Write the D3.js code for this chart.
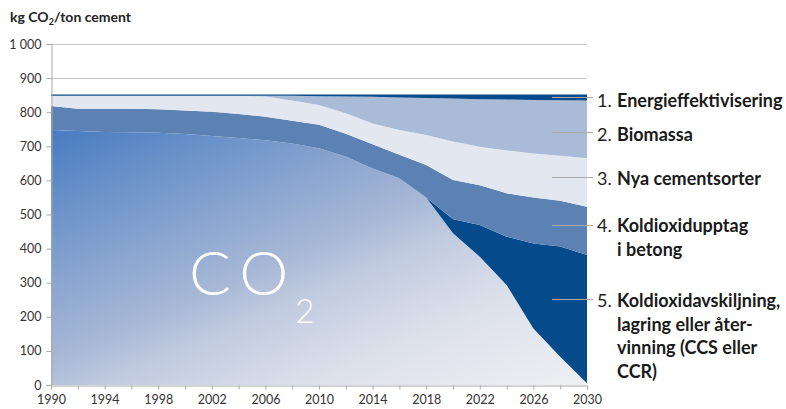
<!DOCTYPE html>
<html><head><meta charset="utf-8">
<script src="https://cdn.jsdelivr.net/npm/d3@7"></script>
<style>
body{margin:0;background:#fff;}
svg{display:block;font-family:Lato,"Open Sans",sans-serif;}
</style>
</head><body>
<svg id="chart" width="786" height="409"></svg>
<script>
// ---- data (kg CO2 / ton cement) ----
const years        = [1990,1992,1994,1996,1998,2000,2002,2004,2006,2008,2010,2012,2014,2016,2018,2020,2022,2024,2026,2028,2030];
const co2          = [748,745,742,741,740,736,730,724,718,708,694,670,635,606,550,445,376,293,166,83,5];
const ccs          = [0,0,0,0,0,0,0,0,0,0,0,0,0,0,0,41,93,142,249,323,376];
const upptag       = [70,65,68,69,69,69,71,71,69,67,69,67,71,69,95,115,117,127,135,134,142];
const cementsorter = [30,38,38,38,39,43,47,53,59,59,58,60,61,73,88,113,113,126,129,132,142];
const biomassa     = [0,0,0,0,0,0,0,0,2,14,26,49,78,95,109,126,139,149,157,163,169];
const energi       = [4,4,4,4,4,4,4,4,4,4,5,6,7,9,10,12,14,15,16,17,18];

const yTicks = [0,100,200,300,400,500,600,700,800,900,1000];
const yTickLabels = ["0","100","200","300","400","500","600","700","800","900","1 000"];
const xMinorTicks = [1990,1992,1994,1996,1998,2000,2002,2004,2006,2008,2010,2012,2014,2016,2018,2020,2022,2024,2026,2028,2030];
const xTickLabels = [1990,1994,1998,2002,2006,2010,2014,2018,2022,2026,2030];

const keys = ["co2","ccs","upptag","cementsorter","biomassa","energi"];
const legendNumbers = ["1.","2.","3.","4.","5."];
const legendTexts = [
  ["Energieffektivisering"],
  ["Biomassa"],
  ["Nya cementsorter"],
  ["Koldioxidupptag","i betong"],
  ["Koldioxidavskiljning,","lagring eller åter-","vinning (CCS eller","CCR)"]
];
const yTitle = "kg CO";

// ---- layout ----
const svg = d3.select("#chart");
const x = d3.scaleLinear().domain([1990,2030]).range([51,587]);
const y = d3.scaleLinear().domain([0,1000]).range([385,44]);

const rows = years.map((yr,i)=>({year:yr,co2:co2[i],ccs:ccs[i],upptag:upptag[i],cementsorter:cementsorter[i],biomassa:biomassa[i],energi:energi[i]}));
const stacked = d3.stack().keys(keys)(rows);

const defs = svg.append("defs");
const grad = defs.append("linearGradient").attr("id","co2grad")
  .attr("gradientUnits","userSpaceOnUse").attr("x1",51).attr("y1",130).attr("x2",231).attr("y2",544);
[[0,"#477bc0"],[0.15,"#6790c8"],[0.3,"#86a3cf"],[0.47,"#a8b8d6"],[0.56,"#c0cadf"],[0.75,"#dde1eb"],[1,"#eff0f3"]]
  .forEach(s=>grad.append("stop").attr("offset",s[0]).attr("stop-color",s[1]));

const colors = {co2:"url(#co2grad)",ccs:"#054a8b",upptag:"#5c82b4",cementsorter:"#e3e7f0",biomassa:"#aabbd7",energi:"#054a8b"};

// gridlines
svg.append("g").selectAll("line").data(yTicks.filter(d=>d>0)).join("line")
  .attr("x1",51).attr("x2",587).attr("y1",d=>y(d)+0.5).attr("y2",d=>y(d)+0.5)
  .attr("stroke","#c6c6c6").attr("stroke-width",1);

// areas
const area = d3.area().x(d=>x(d.data.year)).y0(d=>y(d[0])).y1(d=>y(d[1]));
svg.append("g").selectAll("path").data(stacked).join("path")
  .attr("d",area).attr("fill",d=>colors[d.key]);

// y axis
const yAxis = d3.axisLeft(y).tickValues(yTicks).tickFormat((d,i)=>yTickLabels[i]).tickSize(5).tickPadding(5);
const gy = svg.append("g").attr("transform","translate(51.5,0)").call(yAxis);
gy.select(".domain").attr("stroke","#a8a8a8");
gy.selectAll(".tick line").attr("stroke","#a8a8a8");
gy.selectAll(".tick text").attr("font-size",12.5).attr("fill","#333").attr("font-family","Lato,sans-serif");

// x axis
const xAxis = d3.axisBottom(x).tickValues(xMinorTicks).tickFormat(d=>xTickLabels.includes(d)?d:"").tickSize(4).tickPadding(6).tickSizeOuter(0);
const gx = svg.append("g").attr("transform","translate(0,385.5)").call(xAxis);
gx.select(".domain").attr("stroke","#a8a8a8");
gx.selectAll(".tick line").attr("stroke","#a8a8a8");
gx.selectAll(".tick text").attr("font-size",12.5).attr("fill","#333").attr("font-family","Lato,sans-serif");

// title
const t = svg.append("text").attr("x",10).attr("y",22).attr("font-size",14).attr("font-weight","bold").attr("fill","#222");
t.append("tspan").text(yTitle);
t.append("tspan").attr("font-size",9).attr("dy",3).text("2");
t.append("tspan").attr("dy",-3).text("/ton cement");

// big CO2 label
const big = svg.append("text").attr("x",189).attr("y",295).attr("fill","#fff").attr("font-weight",300).attr("font-family","Lato,sans-serif");
big.append("tspan").attr("font-size",62).attr("letter-spacing",9).text("CO");
big.append("tspan").attr("font-size",33).attr("dx",-2).attr("dy",28).text("2");

// legend
const legendLineY = [97,132,177,225,299];
const legendBaseY = [107,141,185,232,307];
const lg = svg.append("g");
legendLineY.forEach((ly,i)=>{
  lg.append("line").attr("x1",552).attr("x2",593).attr("y1",ly+0.5).attr("y2",ly+0.5).attr("stroke","#a9a9a9").attr("stroke-width",1.2);
  lg.append("text").attr("x",597).attr("y",legendBaseY[i]).attr("font-size",18).attr("fill","#222").text(legendNumbers[i]);
  legendTexts[i].forEach((s,j)=>{
    lg.append("text").attr("x",617).attr("y",legendBaseY[i]+j*23.5).attr("font-size",18).attr("font-weight","bold").attr("fill","#1a1a1a").text(s);
  });
});
</script>
</body></html>
